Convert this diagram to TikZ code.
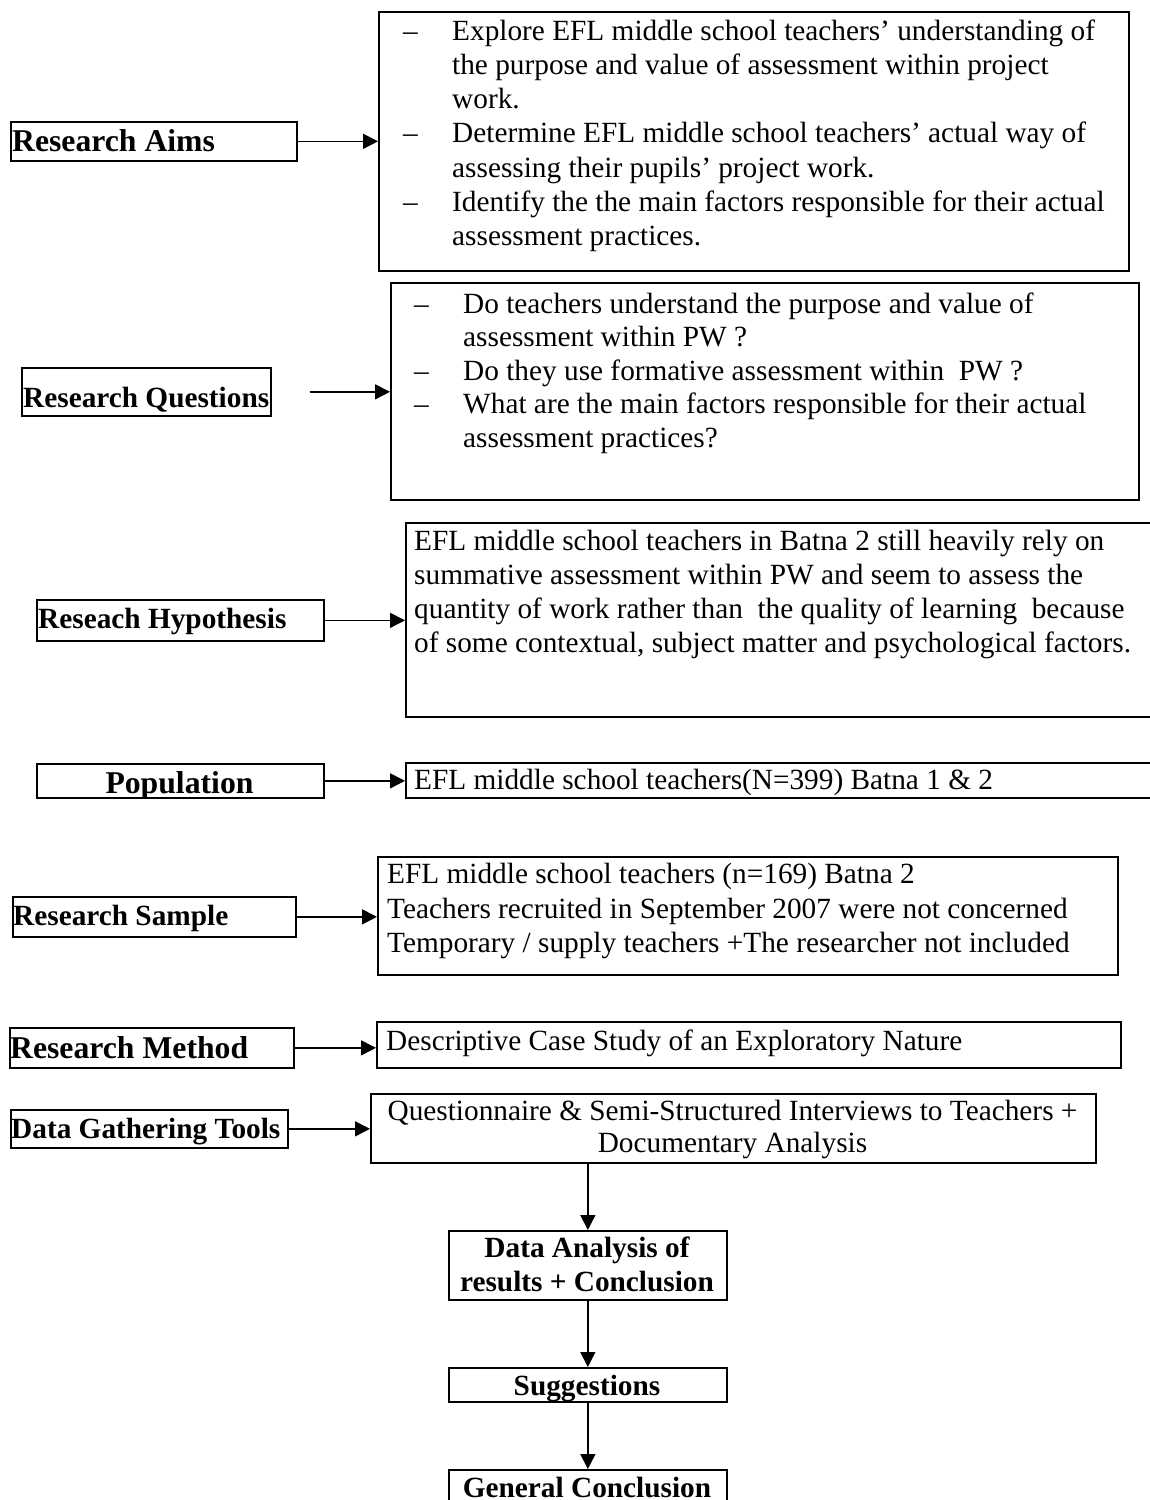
\documentclass[tikz,border=0pt]{standalone}
\usepackage{fontspec}
\setmainfont{Liberation Serif}
\usetikzlibrary{arrows.meta}
\newcommand\myBody{\fontsize{29.3}{34}\selectfont}
\newcommand\myLbl{\fontsize{29.3}{34}\selectfont\bfseries}
\newcommand\myBig{\fontsize{31.7}{36}\selectfont\bfseries}
\tikzset{
  box/.style={draw, line width=1.7pt, inner sep=0pt, anchor=north west},
  txt/.style={anchor=base west, inner sep=0pt, font=\myBody},
  ctxt/.style={anchor=base, inner sep=0pt, font=\myBody},
  lbl/.style={anchor=base west, inner sep=0pt, font=\myLbl},
  clbl/.style={anchor=base, inner sep=0pt, font=\myLbl},
  biglbl/.style={anchor=base west, inner sep=0pt, font=\myBig},
  arr/.style={line width=1.5pt, -{Triangle[length=15pt,width=15pt]}}
}
\begin{document}
\begin{tikzpicture}[x=1pt,y=1pt]
\useasboundingbox (0,0) rectangle (1150,-1500);
\fill[white] (0,0) rectangle (1150,-1500);
\clip (0,0) rectangle (1150,-1500);

% ---------- Research Aims ----------
\node[box, minimum width=286pt, minimum height=39pt] (aimslbl) at (10,-121) {};
\node[biglbl] (aimslbltxt) at (12,-151) {Research Aims};
\node[box, minimum width=750pt, minimum height=259pt] (aims) at (378,-11) {};
\node[txt] (ad1) at (403,-40) {–};
\node[txt] (a1) at (452,-40) {Explore EFL middle school teachers’ understanding of};
\node[txt] (a2) at (452,-74.3) {the purpose and value of assessment within project};
\node[txt] (a3) at (452,-108.5) {work.};
\node[txt] (ad2) at (403,-142.8) {–};
\node[txt] (a4) at (452,-142.8) {Determine EFL middle school teachers’ actual way of};
\node[txt] (a5) at (452,-177) {assessing their pupils’ project work.};
\node[txt] (ad3) at (403,-211) {–};
\node[txt] (a6) at (452,-211) {Identify the the main factors responsible for their actual};
\node[txt] (a7) at (452,-245.5) {assessment practices.};
\draw[arr] (aimslbl.east) -- (aimslbl.east -| aims.west);

% ---------- Research Questions ----------
\node[box, minimum width=249pt, minimum height=48pt] (qlbl) at (21,-367) {};
\node[lbl] (qlbltxt) at (23,-407) {Research Questions};
\node[box, minimum width=748pt, minimum height=217pt] (q) at (390,-282) {};
\node[txt] (qd1) at (414,-313) {–};
\node[txt] (q1) at (463,-313) {Do teachers understand the purpose and value of};
\node[txt] (q2) at (463,-346.5) {assessment within PW ?};
\node[txt] (qd2) at (414,-380) {–};
\node[txt] (q3) at (463,-380) {Do they use formative assessment within\ \ PW ?};
\node[txt] (qd3) at (414,-413.5) {–};
\node[txt] (q4) at (463,-413.5) {What are the main factors responsible for their actual};
\node[txt] (q5) at (463,-447) {assessment practices?};
\draw[arr] ([xshift=38pt]qlbl.east) -- (qlbl.east -| q.west);

% ---------- Research Hypothesis ----------
\node[box, minimum width=287pt, minimum height=41pt] (hlbl) at (36,-599) {};
\node[lbl] (hlbltxt) at (38,-628) {Reseach Hypothesis};
\node[box, minimum width=770pt, minimum height=194pt] (h) at (405,-522) {};
\node[txt] (h1) at (414,-550) {EFL middle school teachers in Batna 2 still heavily rely on};
\node[txt] (h2) at (414,-584) {summative assessment within PW and seem to assess the};
\node[txt] (h3) at (414,-618) {quantity of work rather than\ \ the quality of learning\ \ because};
\node[txt] (h4) at (414,-652) {of some contextual, subject matter and psychological factors.};
\draw[arr] (hlbl.east) -- (hlbl.east -| h.west);

% ---------- Population ----------
\node[box, minimum width=287pt, minimum height=34pt] (plbl) at (36,-763) {};
\begin{scope}
\clip (plbl.south west) rectangle (plbl.north east);
\node[anchor=base, inner sep=0pt, font=\myBig] (plbltxt) at (179.5,-793) {Population};
\end{scope}
\node[box, minimum width=770pt, minimum height=35pt] (p) at (405,-762) {};
\node[txt] (p1) at (414,-789) {EFL middle school teachers(N=399) Batna 1 \& 2};
\draw[arr] (plbl.east) -- (plbl.east -| p.west);

% ---------- Research Sample ----------
\node[box, minimum width=283pt, minimum height=40pt] (slbl) at (12,-896) {};
\node[lbl] (slbltxt) at (13,-925) {Research Sample};
\node[box, minimum width=740pt, minimum height=118pt] (s) at (377,-856) {};
\node[txt] (s1) at (387,-883) {EFL middle school teachers (n=169) Batna 2};
\node[txt] (s2) at (387,-918) {Teachers recruited in September 2007 were not concerned};
\node[txt] (s3) at (387,-952) {Temporary / supply teachers +The researcher not included};
\draw[arr] (slbl.east) -- (slbl.east -| s.west);

% ---------- Research Method ----------
\node[box, minimum width=284pt, minimum height=40pt] (mlbl) at (9,-1027) {};
\node[biglbl] (mlbltxt) at (10,-1058) {Research Method};
\node[box, minimum width=744pt, minimum height=46pt] (m) at (376,-1021) {};
\node[txt] (m1) at (386,-1050) {Descriptive Case Study of an Exploratory Nature};
\draw[arr] (mlbl.east) -- (mlbl.east -| m.west);

% ---------- Data Gathering Tools ----------
\node[box, minimum width=277pt, minimum height=38pt] (dlbl) at (10,-1109) {};
\node[lbl] (dlbltxt) at (11,-1138) {Data Gathering Tools};
\node[box, minimum width=725pt, minimum height=69pt] (d) at (370,-1093) {};
\node[ctxt] (d1) at (732.5,-1120) {Questionnaire \& Semi-Structured Interviews to Teachers +};
\node[ctxt] (d2) at (732.5,-1152) {Documentary Analysis};
\draw[arr] (dlbl.east) -- (dlbl.east -| d.west);

% ---------- Bottom chain ----------
\node[box, minimum width=278pt, minimum height=69pt] (da) at (448,-1230) {};
\node[clbl] (da1) at (587,-1257) {Data Analysis of};
\node[clbl] (da2) at (587,-1291) {results + Conclusion};
\node[box, minimum width=278pt, minimum height=34pt] (sg) at (448,-1367) {};
\node[clbl] (sg1) at (587,-1395) {Suggestions};
\node[box, minimum width=278pt, minimum height=60pt] (gc) at (448,-1469) {};
\node[clbl] (gc1) at (587,-1497) {General Conclusion};
\draw[arr] (d.south -| da.north) -- (da.north);
\draw[arr] (da.south) -- (sg.north);
\draw[arr] (sg.south) -- (gc.north);
\end{tikzpicture}
\end{document}
